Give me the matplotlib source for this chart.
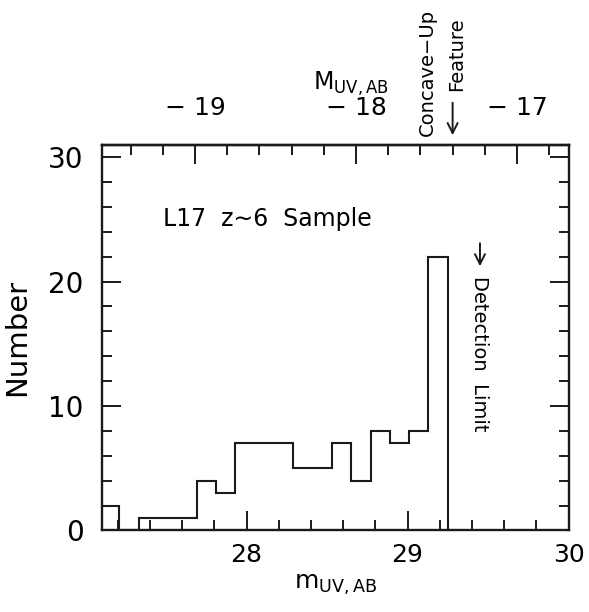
import numpy as np
import matplotlib
matplotlib.use("Agg")
import matplotlib.pyplot as plt
from matplotlib.ticker import MultipleLocator, FixedLocator, FuncFormatter
from matplotlib.transforms import blended_transform_factory

# data
bin_edges = [27.09, 27.21, 27.33, 27.45, 27.57, 27.69, 27.81, 27.93, 28.05, 28.17,
             28.29, 28.41, 28.53, 28.65, 28.77, 28.89, 29.01, 29.13, 29.25]
counts = [2, 0, 1, 1, 1, 4, 3, 7, 7, 7, 5, 5, 7, 4, 8, 7, 8, 22]
top_ticks = [-19, -18, -17]
dist_mod = 46.68  # m - M offset for top axis
concave_up_M = -17.4
detection_limit_m = 29.45

plt.rcParams['font.family'] = ['DejaVu Sans']
plt.rcParams['mathtext.fontset'] = 'dejavusans'

fig = plt.figure(figsize=(5.89, 6.12), dpi=100)
ax = fig.add_axes([0.1727, 0.1332, 0.7925, 0.6299])

ax.stairs(counts, bin_edges, color='#1a1a1a', lw=1.5)

ax.set_xlim(27.1, 30.0)
ax.set_ylim(0, 30.97)
ax.xaxis.set_major_locator(MultipleLocator(1))
ax.xaxis.set_minor_locator(MultipleLocator(0.2))
ax.yaxis.set_major_locator(MultipleLocator(10))
ax.yaxis.set_minor_locator(MultipleLocator(2))
ax.tick_params(which='both', direction='in', width=1.4, color='#1a1a1a',
               top=False, right=True)
ax.tick_params(which='major', length=14)
ax.tick_params(which='minor', length=7)
ax.tick_params(axis='x', pad=9, labelsize=18)
ax.tick_params(axis='y', pad=13, labelsize=20)
for s in ax.spines.values():
    s.set_linewidth(1.7)
    s.set_color('#1a1a1a')

ax.set_ylabel('Number', fontsize=21, labelpad=12)
ax.set_xlabel(r'$\mathregular{m_{UV,AB}}$', fontsize=18, labelpad=4)

sec = ax.secondary_xaxis('top', functions=(lambda m: m - dist_mod, lambda M: M + dist_mod))
sec.xaxis.set_major_locator(FixedLocator(top_ticks))
sec.xaxis.set_minor_locator(MultipleLocator(0.2))
sec.xaxis.set_major_formatter(FuncFormatter(lambda v, p: '\u2212 %d' % abs(round(v))))
sec.tick_params(which='both', direction='in', width=1.4, color='#1a1a1a', labelsize=18, pad=18)
sec.tick_params(which='major', length=14)
sec.tick_params(which='minor', length=7)
sec.spines['top'].set_linewidth(1.7)

fig.text(313/589, 1 - 84/612, r'$\mathregular{M_{UV,AB}}$', fontsize=17, ha='left', va='center')

ax.text(27.48, 25.0, 'L17  z\u223c6  Sample', fontsize=17, ha='left', va='center')

# detection limit arrow & text
ax.annotate('', xy=(detection_limit_m, 21.0), xytext=(detection_limit_m, 23.3),
            arrowprops=dict(arrowstyle='->', lw=1.4, color='#1a1a1a', mutation_scale=18))
ax.text(detection_limit_m, 14.2, 'Detection  Limit', rotation=-90, fontsize=14,
        ha='center', va='center')

# concave-up feature
trans = blended_transform_factory(ax.transData, fig.transFigure)
xm = concave_up_M + dist_mod
ax.annotate('', xy=(xm, 1 - 138/612), xytext=(xm, 1 - 100/612), xycoords=trans, textcoords=trans,
            arrowprops=dict(arrowstyle='->', lw=1.4, color='#1a1a1a', mutation_scale=18),
            annotation_clip=False)
fig.text(427/589, 1 - 72/612, 'Concave\u2212Up', rotation=90, fontsize=14, ha='center', va='center')
fig.text(457/589, 1 - 54/612, 'Feature', rotation=90, fontsize=14, ha='center', va='center')

fig.savefig('out.png', dpi=100)
